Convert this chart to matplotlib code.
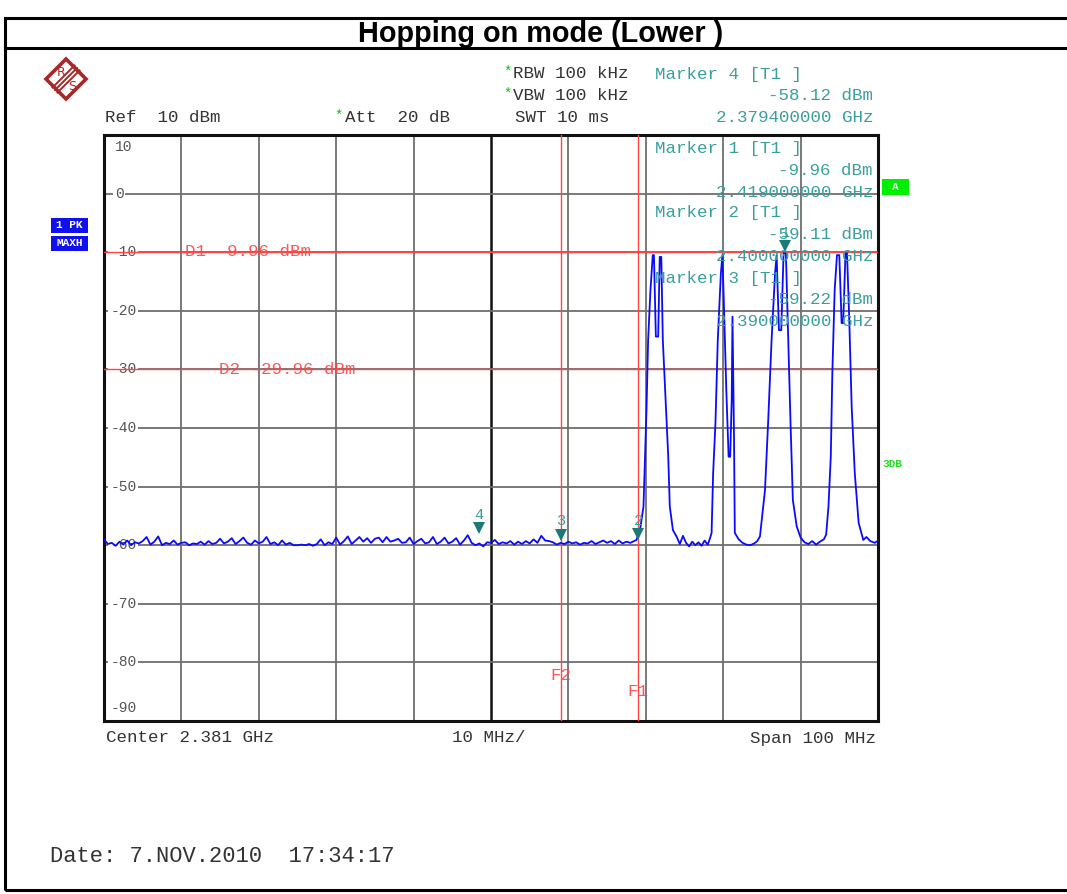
import matplotlib
matplotlib.use('Agg')
import matplotlib.pyplot as plt
from matplotlib.patches import Rectangle, Polygon
from matplotlib.lines import Line2D

# ---------------- data ----------------
# noise floor, 2331.0 .. 2399.5 MHz in 0.5 MHz steps
noise_start_mhz = 2331.0
noise_step_mhz = 0.5
noise_dbm = [
    -59.0, -59.8, -59.6, -60.1, -59.4, -59.9, -59.2, -60.0, -59.5, -59.7,
    -59.3, -58.6, -59.9, -59.4, -58.5, -60.0, -59.6, -59.8, -59.2, -59.9,
    -59.6, -59.5, -60.0, -59.7, -59.8, -59.4, -59.9, -59.3, -59.8, -59.6,
    -58.9, -59.7, -59.4, -58.8, -59.8, -59.3, -58.7, -59.6, -59.9, -59.2,
    -59.7, -59.4, -58.6, -59.8, -59.5, -60.0, -59.2, -59.9, -59.6, -60.0,
    -60.0, -59.9, -60.0, -59.8, -60.1, -59.8, -59.0, -60.0, -59.5, -59.8,
    -58.7, -59.9, -59.3, -58.5, -59.8, -59.2, -58.6, -59.4, -58.8, -59.6,
    -58.9, -58.7, -59.5, -58.6, -59.4, -59.2, -58.9, -59.6, -59.5, -58.7,
    -59.8, -59.3, -58.9, -59.7, -59.5, -58.6, -59.8, -59.4, -58.7, -59.7,
    -59.4, -58.8, -59.9, -59.2, -58.3, -59.6, -60.0, -59.7, -60.2, -59.5,
    -59.6, -59.1, -59.8, -59.5, -59.7, -59.3, -59.9, -59.4, -59.8, -59.3,
    -59.7, -59.0, -59.6, -58.4, -59.2, -59.3, -59.5, -59.9, -59.6, -59.8,
    -59.4, -59.7, -59.5, -59.9, -59.6, -59.7, -59.3, -59.8, -59.5, -59.2,
    -59.6, -59.3, -59.8, -59.2, -59.7, -59.4, -59.6, -59.3,
]

# hopping channels and floor in between (MHz, dBm)
peak_freq_mhz = [
    2399.8, 2400.3, 2400.7, 2400.9, 2401.1, 2401.3, 2401.6, 2401.9, 2402.05,
    2402.3, 2402.6, 2402.8, 2403.0, 2403.2, 2403.6, 2403.9, 2404.1, 2404.5,
    2405.0, 2405.4, 2405.8, 2406.2, 2406.6, 2407.0, 2407.4, 2407.8, 2408.2,
    2408.6, 2409.0, 2409.3,
    2409.5, 2409.7, 2410.0, 2410.3, 2410.7, 2410.9, 2411.1, 2411.4, 2411.7,
    2411.9, 2412.1, 2412.2, 2412.4, 2412.5,
    2413.0, 2413.5, 2414.0, 2414.5, 2415.0, 2415.4,
    2415.75, 2416.4, 2416.8, 2417.25, 2417.7, 2417.9, 2418.2, 2418.5, 2418.8,
    2419.1, 2419.4, 2419.7, 2420.0, 2420.5,
    2421.0, 2421.5, 2422.0, 2422.5, 2423.0, 2423.5, 2424.0, 2424.3,
    2424.6, 2424.9, 2425.1, 2425.4, 2425.7, 2426.0, 2426.3, 2426.5, 2426.8,
    2427.0, 2427.3, 2427.6, 2428.0, 2428.5, 2429.1, 2429.5, 2430.0, 2430.6,
    2431.0,
]
peak_dbm = [
    -59.1, -57.0, -53.4, -45.0, -36.4, -25.0, -16.5, -10.5, -10.5,
    -24.4, -24.4, -10.8, -10.8, -25.0, -36.4, -44.9, -53.4, -57.4,
    -58.6, -59.8, -58.4, -59.6, -60.2, -59.4, -60.0, -59.5, -60.1,
    -59.2, -59.9, -58.8,
    -57.9, -47.7, -39.1, -25.0, -13.6, -10.5, -19.3, -33.5, -44.9,
    -44.9, -35.2, -21.0, -42.0, -57.9,
    -59.0, -59.6, -59.9, -60.0, -59.7, -59.3,
    -58.5, -50.6, -39.2, -25.0, -13.6, -10.5, -23.3, -23.3, -10.2,
    -10.2, -25.0, -39.2, -52.3, -56.8,
    -58.7, -59.5, -59.8, -59.3, -59.9, -59.4, -59.0, -58.2,
    -53.4, -44.9, -30.7, -16.5, -10.5, -10.5, -22.1, -22.1, -10.2,
    -10.2, -22.1, -36.4, -47.7, -56.2, -59.1, -58.6, -59.3, -59.6,
    -59.2,
]

# markers
marker_ids = ['1', '2', '3', '4']
marker_freq_mhz = [2419.0, 2400.0, 2390.0, 2379.4]
marker_dbm = [-9.96, -59.11, -59.22, -58.12]

# display lines
d_line_names = ['D1', 'D2']
d_line_dbm = [-9.96, -29.96]
f_line_names = ['F1', 'F2']
f_line_mhz = [2400.0, 2390.0]

# axes
center_mhz = 2381.0
span_mhz = 100.0
ref_dbm = 10.0
y_tick_values = [10, 0, -10, -20, -30, -40, -50, -60, -70, -80, -90]
y_tick_labels = ['10', '0', '-10', '-20', '-30', '-40', '-50', '-60', '-70', '-80', '-90']

# ---------------- figure ----------------
W, H = 1067, 894
fig = plt.figure(figsize=(W / 100, H / 100), dpi=100)
fig.patch.set_facecolor('white')


def fx(p):
    return p / W


def fy(p):
    return 1 - p / H


MONO = ['Liberation Mono', 'DejaVu Sans Mono']
TEAL = '#3a9e9e'
GRAY = '#555555'
RED = '#ff4444'
FS = 12.6

# outer frame and title separator
fig.add_artist(Rectangle((fx(5), fy(890)), fx(1075) - fx(5), fy(18) - fy(890),
                         transform=fig.transFigure, fill=False, lw=2.2,
                         edgecolor='black', clip_on=False))
fig.add_artist(Line2D([fx(5), fx(1067)], [fy(48), fy(48)], transform=fig.transFigure,
                      color='black', lw=2.2))
fig.text(fx(541), fy(34), 'Hopping on mode (Lower )', ha='center', va='center',
         fontsize=20.8, fontweight='bold', family=['Liberation Sans', 'DejaVu Sans'])

# R&S logo
lc = '#a82828'
cx, cy, r = 66, 79, 20
fig.add_artist(Polygon([(fx(cx - r), fy(cy)), (fx(cx), fy(cy - r)), (fx(cx + r), fy(cy)),
                        (fx(cx), fy(cy + r))], closed=True, fill=False, lw=2.6,
                       edgecolor=lc, transform=fig.transFigure))
for d in (-2.5, 0, 2.5):
    fig.add_artist(Line2D([fx(cx - 11 + d), fx(cx + 11 + d)], [fy(cy + 11 + d), fy(cy - 11 + d)],
                          transform=fig.transFigure, color=lc, lw=1.4))
fig.text(fx(cx - 5), fy(cy - 7), 'R', color=lc, fontsize=9, ha='center', va='center',
         family=['DejaVu Sans'])
fig.text(fx(cx + 6), fy(cy + 8), 'S', color=lc, fontsize=9, ha='center', va='center',
         family=['DejaVu Sans'])

# header texts
def mono(x, y, s, color='#333333', ha='left', fs=FS, **kw):
    fig.text(fx(x), fy(y), s, ha=ha, va='center', color=color, fontsize=fs, family=MONO, **kw)


mono(503, 72, '*', color='#00cc00', fs=10)
mono(513, 74, 'RBW 100 kHz')
mono(503, 94, '*', color='#00cc00', fs=10)
mono(513, 96, 'VBW 100 kHz')
mono(515, 118, 'SWT 10 ms')
mono(105, 118, 'Ref  10 dBm')
mono(334, 116, '*', color='#00cc00', fs=10)
mono(345, 118, 'Att  20 dB')
mono(655, 74, 'Marker 4 [T1 ]', color=TEAL)
mono(873, 96, '-58.12 dBm', color=TEAL, ha='right')
mono(873, 118, '2.379400000 GHz', color=TEAL, ha='right')

# footer texts
mono(106, 738, 'Center 2.381 GHz')
mono(489, 738, '10 MHz/', ha='center')
mono(876, 738, 'Span 100 MHz', ha='right')
mono(50, 856, 'Date: 7.NOV.2010  17:34:17', fs=15.9)

# side labels
for (y0, y1, s) in [(218, 233, '1 PK'), (236, 251, 'MAXH')]:
    fig.add_artist(Rectangle((fx(51), fy(y1)), fx(88) - fx(51), fy(y0) - fy(y1),
                             transform=fig.transFigure, facecolor='#1010ee', edgecolor='none'))
    fig.text(fx(69.5), fy((y0 + y1) / 2), s, ha='center', va='center', color='white',
             fontsize=8, fontweight='bold', family=MONO)
fig.add_artist(Rectangle((fx(882), fy(195)), fx(909) - fx(882), fy(179) - fy(195),
                         transform=fig.transFigure, facecolor='#00ee00', edgecolor='none'))
fig.text(fx(895.5), fy(187), 'A', ha='center', va='center', color='white',
         fontsize=8, fontweight='bold', family=MONO)
fig.text(fx(882), fy(464), '3DB', ha='left', va='center', color='#22dd22',
         fontsize=8, fontweight='bold', family=MONO)

# ---------------- plot area ----------------
ax = fig.add_axes([fx(104), fy(721), fx(878) - fx(104), fy(135) - fy(721)])
x0 = center_mhz - span_mhz / 2
x1 = center_mhz + span_mhz / 2
ax.set_xlim(x0, x1)
ax.set_ylim(y_tick_values[-1], ref_dbm)
ax.set_xticks([])
ax.set_yticks([])
for sp in ax.spines.values():
    sp.set_linewidth(2.2)
    sp.set_color('#111111')

# grid
for i in range(1, 10):
    xv = x0 + i * span_mhz / 10
    if abs(xv - center_mhz) < 1e-6:
        ax.axvline(xv, color='#111111', lw=1.8, zorder=1)
    else:
        ax.axvline(xv, color='#6e6e6e', lw=1.3, zorder=1)
for yv in y_tick_values[1:-1]:
    ax.axhline(yv, color='#6e6e6e', lw=1.3, zorder=1)

# y labels inside axes
blend = ax.get_yaxis_transform()
for yv, lab in zip(y_tick_values, y_tick_labels):
    ypos = yv
    if yv == y_tick_values[0]:
        ypos = yv - 2.0
    elif yv == y_tick_values[-1]:
        ypos = yv + 2.2
    ax.text(0.008 + (0.006 if lab in ('0', '10') else 0.0), ypos, lab, transform=blend,
            ha='left', va='center', fontsize=10.5, color=GRAY, family=MONO, zorder=2,
            bbox=dict(boxstyle='square,pad=0.12', facecolor='white', edgecolor='none'))

# display lines
for name, yv, xl in zip(d_line_names, d_line_dbm, [2341.5, 2345.8]):
    ax.axhline(yv, color=RED, lw=1.0, zorder=3)
    ax.text(xl, yv, f'{name} {yv:.2f} dBm', ha='left', va='center', color=RED,
            fontsize=FS, family=MONO, zorder=3, alpha=0.9)
for name, xv, yl in zip(f_line_names, f_line_mhz, [-85.0, -82.3]):
    ax.axvline(xv, color=RED, lw=1.0, zorder=3)
    ax.text(xv, yl, name, ha='center', va='center', color=RED,
            fontsize=FS, family=MONO, zorder=3, alpha=0.9)

# trace
freqs = [noise_start_mhz + i * noise_step_mhz for i in range(len(noise_dbm))] + peak_freq_mhz
levels = noise_dbm + peak_dbm
ax.plot(freqs, levels, color='#0a0aff', lw=1.3, zorder=4)

# marker info texts in plot area
info_y = [149, 213, 278]
for k, (mid, mf, md) in enumerate(zip(marker_ids[:3], marker_freq_mhz[:3], marker_dbm[:3])):
    y = info_y[k]
    mono(655, y, f'Marker {mid} [T1 ]', color=TEAL, zorder=5)
    mono(873, y + 21.5, f'{md:.2f} dBm', color=TEAL, ha='right', zorder=5)
    mono(873, y + 43.5, f'{mf / 1000:.9f} GHz', color=TEAL, ha='right', zorder=5)

# marker triangles
for mid, mf, md in zip(marker_ids, marker_freq_mhz, marker_dbm):
    ax.plot([mf], [md + 1.0], marker='v', color='#1a7a7a', markersize=9, zorder=6,
            markeredgewidth=0)
    ax.text(mf, md + 3.3, mid, ha='center', va='center', color=TEAL, fontsize=11,
            family=MONO, zorder=6)

fig.savefig('out.png', dpi=100)
